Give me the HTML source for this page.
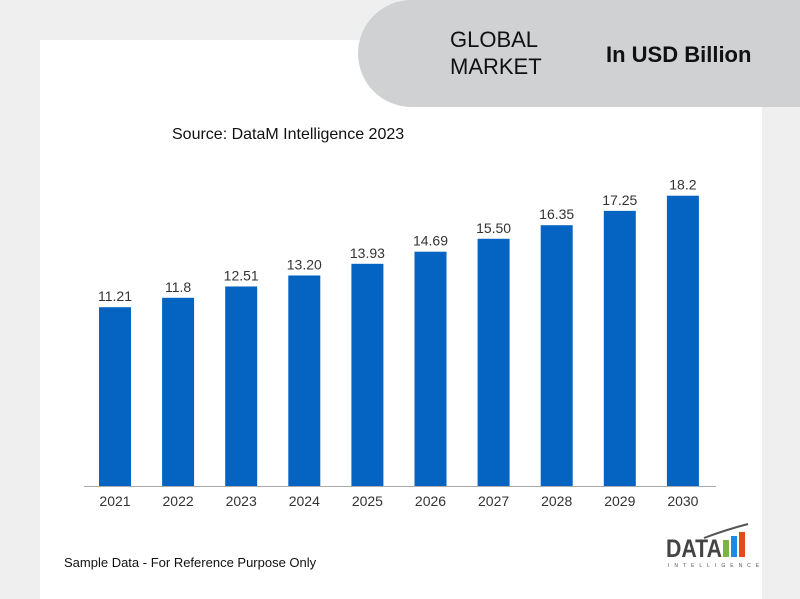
<!DOCTYPE html>
<html><head><meta charset="utf-8"><style>
body{margin:0;width:800px;height:599px;background:#efefef;overflow:hidden;position:relative;font-family:"Liberation Sans",sans-serif}
#panel{position:absolute;left:40px;top:40px;width:722px;height:559px;background:#fff;border-top-right-radius:60px}
#pill{position:absolute;left:358px;top:0;width:442px;height:107px;background:#cfd1d3;border-bottom-left-radius:60px;border-top-left-radius:60px}
.t{position:absolute;color:#111}
</style></head><body>
<div id="panel"></div>
<div id="pill"></div>
<div class="t" style="left:450px;top:26px;font-size:22px;line-height:27px">GLOBAL<br>MARKET</div>
<div class="t" style="left:606px;top:42px;font-size:22px;font-weight:bold">In USD Billion</div>
<div class="t" style="left:172px;top:126px;font-size:16px">Source: DataM Intelligence 2023</div>
<div class="t" style="left:64px;top:555px;font-size:13px">Sample Data - For Reference Purpose Only</div>
<svg id="chart" width="800" height="599" style="position:absolute;left:0;top:0"></svg>
<svg width="100" height="50" style="position:absolute;left:660px;top:520px">
<text x="6" y="37" font-family="Liberation Sans" font-weight="bold" font-size="25" fill="#444" textLength="56" lengthAdjust="spacingAndGlyphs">DATA</text>
<rect x="63" y="20" width="6" height="17" fill="#7cb342"/><rect x="71" y="16" width="6" height="21" fill="#1e88e5"/><rect x="79" y="12" width="6" height="25" fill="#e64a19"/>
<path d="M44 18 Q65 10 88 4" stroke="#555" stroke-width="2" fill="none"/>
<text x="8" y="47" font-size="5" fill="#555" letter-spacing="5">INTELLIGENCE</text>
</svg>
<script>
const categories=["2021","2022","2023","2024","2025","2026","2027","2028","2029","2030"];
const values=[11.21,11.8,12.51,13.20,13.93,14.69,15.50,16.35,17.25,18.2];
const labels=["11.21","11.8","12.51","13.20","13.93","14.69","15.50","16.35","17.25","18.2"];
const svg=document.getElementById('chart');const NS='http://www.w3.org/2000/svg';
const base=486,scale=15.95,x0=115,step=63.1,bw=32;
const xs=i=>x0+i*step, ys=v=>base-v*scale;
const ax=document.createElementNS(NS,'line');


ax.setAttribute('x1',84);ax.setAttribute('x2',716);ax.setAttribute('y1',base+0.5);ax.setAttribute('y2',base+0.5);ax.setAttribute('stroke','#aaa');svg.appendChild(ax);
categories.forEach((c,i)=>{
const r=document.createElementNS(NS,'rect');


r.setAttribute('x',xs(i)-bw/2);r.setAttribute('y',ys(values[i]));r.setAttribute('width',bw);r.setAttribute('height',base-ys(values[i]));r.setAttribute('fill','#0563c1');svg.appendChild(r);
const t=document.createElementNS(NS,'text');


t.setAttribute('x',xs(i));t.setAttribute('y',ys(values[i])-6);t.setAttribute('text-anchor','middle');t.setAttribute('font-size','14');t.setAttribute('fill','#333');t.textContent=labels[i];svg.appendChild(t);
const l=document.createElementNS(NS,'text');


l.setAttribute('x',xs(i));l.setAttribute('y',base+20);l.setAttribute('text-anchor','middle');l.setAttribute('font-size','14');l.setAttribute('fill','#333');l.textContent=c;svg.appendChild(l);
});
</script>
</body></html>
